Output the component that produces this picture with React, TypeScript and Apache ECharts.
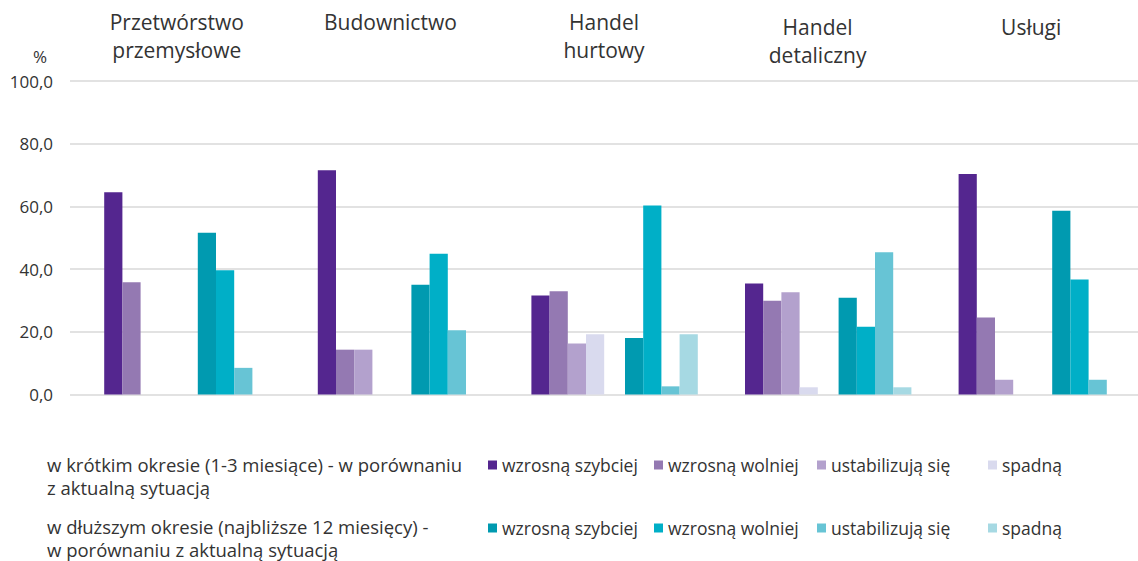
import React, { useEffect, useRef } from 'react';
import * as echarts from 'echarts';

// ---- data ----
const categories = ['Przetwórstwo\nprzemysłowe', 'Budownictwo', 'Handel\nhurtowy', 'Handel\ndetaliczny', 'Usługi'];
const answerLabels = ['wzrosną szybciej', 'wzrosną wolniej', 'ustabilizują się', 'spadną'];

// short term (1-3 months)
const shortFaster = [64.5, 71.5, 31.6, 35.4, 70.3];
const shortSlower = [35.8, 14.3, 32.9, 29.9, 24.6];
const shortStable = [null, 14.3, 16.3, 32.6, 4.7];
const shortFall = [null, null, 19.2, 2.3, null];

// longer term (next 12 months)
const longFaster = [51.6, 35.0, 18.0, 30.9, 58.6];
const longSlower = [39.6, 44.9, 60.3, 21.6, 36.7];
const longStable = [8.5, 20.5, 2.6, 45.4, 4.7];
const longFall = [null, null, 19.2, 2.3, null];

const yTicks = { min: 0, max: 100, interval: 20 };

const shortRowLabel = 'w krótkim okresie (1-3 miesiące) - w porównaniu\nz aktualną sytuacją';
const longRowLabel = 'w dłuższym okresie (najbliższe 12 miesięcy) -\nw porównaniu z aktualną sytuacją';

// ---- styles ----
const FONT = 'Open Sans';
const TXT = '#333333';
const shortColors = ['#54268F', '#9479B2', '#B3A1CD', '#D9DAEE'];
const longColors = ['#009AB0', '#00AFC7', '#67C4D5', '#A6D9E3'];
const BAR_W = 18.2;

export default function App() {
  const ref = useRef<HTMLDivElement>(null);

  useEffect(() => {
    if (!ref.current) return;
    const chart = echarts.init(ref.current, undefined, { renderer: 'svg' });

    const shortData = [shortFaster, shortSlower, shortStable, shortFall];
    const longData = [longFaster, longSlower, longStable, longFall];
    const shortNames = answerLabels.map((l) => 'K|' + l);
    const longNames = answerLabels.map((l) => 'D|' + l);
    const strip = (n: string) => n.slice(2);

    const labelPadBottom = [5, 33, 5, 0, 28];

    const series: any[] = [];
    series.push({ type: 'bar', name: '_lead', data: [], barWidth: 21.2, barGap: '0%' });
    shortData.forEach((d, i) =>
      series.push({
        type: 'bar',
        name: shortNames[i],
        data: d,
        barWidth: BAR_W,
        barGap: '0%',
        itemStyle: { color: shortColors[i] },
      })
    );
    series.push({ type: 'bar', name: '_mid', data: [], barWidth: 20.8, barGap: '0%' });
    longData.forEach((d, i) =>
      series.push({
        type: 'bar',
        name: longNames[i],
        data: d,
        barWidth: BAR_W,
        barGap: '0%',
        itemStyle: { color: longColors[i] },
      })
    );

    const legendX = [488, 654, 817, 988];
    const legends: any[] = [];
    [shortNames, longNames].forEach((names, r) => {
      names.forEach((n, i) => {
        legends.push({
          left: legendX[i],
          top: r === 0 ? 456 : 519,
          padding: 0,
          itemWidth: 9,
          itemHeight: 9,
          icon: 'rect',
          selectedMode: false,
          data: [n],
          formatter: strip,
          textStyle: { fontFamily: FONT, fontSize: 17.5, color: TXT },
        });
      });
    });

    chart.setOption({
      animation: false,
      textStyle: { fontFamily: FONT },
      grid: { left: 70, right: -5, top: 81, bottom: 166.5, containLabel: false },
      xAxis: {
        type: 'category',
        position: 'top',
        data: categories.map((c, i) => ({
          value: c,
          textStyle: { padding: [0, 0, labelPadBottom[i], 0] },
        })),
        axisLine: { show: false },
        axisTick: { show: false },
        axisLabel: {
          interval: 0,
          margin: 12,
          fontFamily: FONT,
          fontSize: 21,
          lineHeight: 28,
          color: TXT,
        },
      },
      yAxis: {
        type: 'value',
        min: yTicks.min,
        max: yTicks.max,
        interval: yTicks.interval,
        axisLine: { show: false },
        axisTick: { show: false },
        splitLine: { lineStyle: { color: '#D9D9D9', width: 1.5 } },
        axisLabel: {
          margin: 17,
          fontFamily: FONT,
          fontSize: 17,
          color: TXT,
          formatter: (v: number) => v.toFixed(1).replace('.', ','),
        },
      },
      legend: legends,
      graphic: [
        {
          type: 'text',
          left: 33,
          top: 48,
          style: { text: '%', fontFamily: FONT, fontSize: 17, fill: TXT },
        },
        {
          type: 'text',
          left: 47,
          top: 453,
          style: { text: shortRowLabel, fontFamily: FONT, fontSize: 18.5, lineHeight: 23, fill: TXT },
        },
        {
          type: 'text',
          left: 47,
          top: 515,
          style: { text: longRowLabel, fontFamily: FONT, fontSize: 18.5, lineHeight: 23, fill: TXT },
        },
      ],
      series,
    });

    return () => chart.dispose();
  }, []);

  return (
    <div
      ref={ref}
      style={{ position: 'absolute', left: 0, top: 0, width: 1138, height: 561, background: '#fff' }}
    />
  );
}
